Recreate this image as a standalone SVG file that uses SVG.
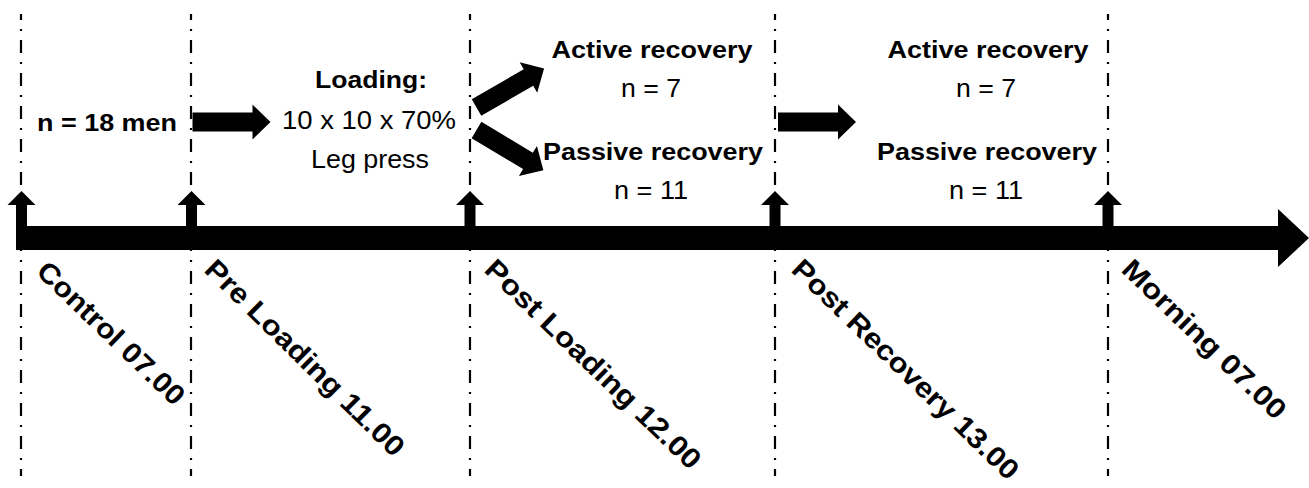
<svg xmlns="http://www.w3.org/2000/svg" xmlns:xlink="http://www.w3.org/1999/xlink" width="1309" height="488" viewBox="0 0 1309 488">
<style>
.t{font-family:"Liberation Sans",Arial,Helvetica,sans-serif;fill:#000;text-anchor:middle}
.b{font-weight:bold}
.r{font-weight:normal}
.rot{font-family:"Liberation Sans",Arial,Helvetica,sans-serif;font-weight:bold;font-size:28px;fill:#000}
.dd{stroke:#000;stroke-width:2.2;fill:none;stroke-dasharray:13 9 2 9;stroke-dashoffset:7}
</style>
<defs>
<path id="blk" d="M0,-9.5 H60 V-17.5 L78,0 L60,17.5 V9.5 H0 Z" fill="#000"/>
<path id="up" d="M-5.5,226 V205 H-14 L0,191 L14,205 H5.5 V226 Z" fill="#000"/>
</defs>
<rect width="1309" height="488" fill="#fff"/>
<g id="connectors">
<line class="dd" x1="21" y1="14" x2="21" y2="476"/>
<line class="dd" x1="191" y1="14" x2="191" y2="476"/>
<line class="dd" x1="470" y1="14" x2="470" y2="476"/>
<line class="dd" x1="775" y1="14" x2="775" y2="476"/>
<line class="dd" x1="1108" y1="14" x2="1108" y2="476"/>
<path id="axis" d="M16,226 H1278 V209 L1309,238 L1278,267 V250 H16 Z" fill="#000"/>
<use xlink:href="#up" href="#up" transform="translate(21.5,0)"/>
<use xlink:href="#up" href="#up" transform="translate(191.5,0)"/>
<use xlink:href="#up" href="#up" transform="translate(470,0)"/>
<use xlink:href="#up" href="#up" transform="translate(775,0)"/>
<use xlink:href="#up" href="#up" transform="translate(1108,0)"/>
<use xlink:href="#blk" href="#blk" transform="translate(192.5,122)"/>
<use xlink:href="#blk" href="#blk" transform="translate(778,122)"/>
<use xlink:href="#blk" href="#blk" transform="translate(476.5,107.5) rotate(-30)"/>
<use xlink:href="#blk" href="#blk" transform="translate(476.5,130) rotate(31)"/>
</g>
<g id="node-group">
<text class="t b" x="107" y="131" font-size="23.5" textLength="140" lengthAdjust="spacingAndGlyphs">n = 18 men</text>
</g>
<g id="node-loading">
<text class="t b" x="371" y="88" font-size="24.5" textLength="112" lengthAdjust="spacingAndGlyphs">Loading:</text>
<text class="t r" x="369" y="129" font-size="25.5" textLength="174" lengthAdjust="spacingAndGlyphs">10 x 10 x 70%</text>
<text class="t r" x="370" y="168" font-size="25.5" textLength="118" lengthAdjust="spacingAndGlyphs">Leg press</text>
</g>
<g id="node-recovery-1">
<text class="t b" x="652" y="58" font-size="23.5" textLength="201" lengthAdjust="spacingAndGlyphs">Active recovery</text>
<text class="t r" x="651" y="97" font-size="25" textLength="60" lengthAdjust="spacingAndGlyphs">n = 7</text>
<text class="t b" x="653" y="160" font-size="23.5" textLength="220" lengthAdjust="spacingAndGlyphs">Passive recovery</text>
<text class="t r" x="651" y="199" font-size="25" textLength="74" lengthAdjust="spacingAndGlyphs">n = 11</text>
</g>
<g id="node-recovery-2">
<text class="t b" x="988" y="58" font-size="23.5" textLength="201" lengthAdjust="spacingAndGlyphs">Active recovery</text>
<text class="t r" x="986" y="97" font-size="25" textLength="60" lengthAdjust="spacingAndGlyphs">n = 7</text>
<text class="t b" x="987" y="160" font-size="23.5" textLength="220" lengthAdjust="spacingAndGlyphs">Passive recovery</text>
<text class="t r" x="986" y="199" font-size="25" textLength="74" lengthAdjust="spacingAndGlyphs">n = 11</text>
</g>
<g id="tp-control">
<text class="rot" transform="translate(35,273) rotate(44)" textLength="193" lengthAdjust="spacingAndGlyphs">Control 07.00</text>
</g>
<g id="tp-pre-loading">
<text class="rot" transform="translate(203,271) rotate(44.5)" textLength="267" lengthAdjust="spacingAndGlyphs">Pre Loading 11.00</text>
</g>
<g id="tp-post-loading">
<text class="rot" transform="translate(483,271) rotate(44)" textLength="288" lengthAdjust="spacingAndGlyphs">Post Loading 12.00</text>
</g>
<g id="tp-post-recovery">
<text class="rot" transform="translate(790,271) rotate(44)" textLength="303" lengthAdjust="spacingAndGlyphs">Post Recovery 13.00</text>
</g>
<g id="tp-morning">
<text class="rot" transform="translate(1120,271) rotate(44)" textLength="216" lengthAdjust="spacingAndGlyphs">Morning 07.00</text>
</g>
</svg>
